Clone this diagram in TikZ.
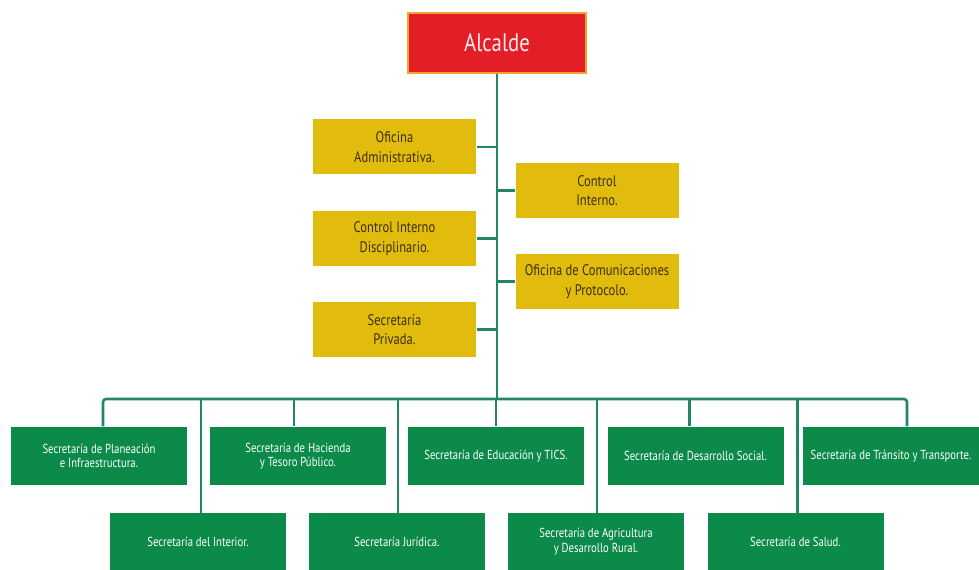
\documentclass[tikz,border=0pt]{standalone}
\usepackage{fontspec}
\newfontfamily\orgfont{PT Sans}[FakeStretch=0.82]
\definecolor{alcaldered}{RGB}{228,30,38}
\definecolor{alcaldeedge}{RGB}{240,165,50}
\definecolor{ofiyellow}{RGB}{226,188,12}
\definecolor{ofitext}{RGB}{60,48,10}
\definecolor{secgreen}{RGB}{12,138,74}
\definecolor{linkgreen}{RGB}{34,134,100}

\tikzset{every picture/.style={line width=0.75pt}}
\tikzset{
  alcaldebox/.style={draw=alcaldeedge, line width=1.2pt, fill=alcaldered, text=white!92!red,
    minimum width=133.5pt, minimum height=45pt, inner sep=0pt, font=\orgfont\fontsize{19}{22}\selectfont},
  ofibox/.style={fill=ofiyellow, text=ofitext, align=center, minimum width=122.25pt, minimum height=41.25pt,
    inner sep=0pt, font=\orgfont\fontsize{11.5}{14.5}\selectfont},
  secbox/.style={fill=secgreen, text=white, align=center, minimum width=132pt, minimum height=43.5pt,
    inner sep=0pt, font=\orgfont\fontsize{9.8}{11}\selectfont},
  link/.style={draw=linkgreen, line width=1.9pt}
}

\begin{document}
\begin{tikzpicture}[x=0.75pt,y=0.75pt,yscale=-1,xscale=1]
\useasboundingbox (0,0) rectangle (979,570);

%Shape: Rectangle [id:alcalde]
\node (alcalde) [alcaldebox] at (497,43) {Alcalde};

%Shape: Rectangle [id:oficinas]
\node (ofiadm) [ofibox] at (394.5,147) {Oficina\\Administrativa.};
\node (ctrlint) [ofibox] at (597,190.5) {Control\\Interno.};
\node (ctrldis) [ofibox] at (394.5,238.5) {Control Interno\\Disciplinario.};
\node (ofcom) [ofibox] at (597,281.5) {Oficina de Comunicaciones\\y Protocolo.};
\node (secpriv) [ofibox] at (394.5,329.5) {Secretaría\\Privada.};

%Shape: Rectangle [id:secretarias, upper row]
\node (planeacion) [secbox] at (99,456) {Secretaría de Planeación\\e Infraestructura.};
\node (hacienda) [secbox] at (298,456) {Secretaría de Hacienda\\y Tesoro Público.};
\node (educacion) [secbox] at (496,456) {Secretaría de Educación y TICS.};
\node (desarrollo) [secbox] at (695.5,456) {Secretaría de Desarrollo Social.};
\node (transito) [secbox] at (891,456) {Secretaría de Tránsito y Transporte.};

%Shape: Rectangle [id:secretarias, lower row]
\node (interior) [secbox, minimum height=42.75pt] at (198,541.5) {Secretaría del Interior.};
\node (juridica) [secbox, minimum height=42.75pt] at (397,541.5) {Secretaría Jurídica.};
\node (agricultura) [secbox, minimum height=42.75pt] at (596,541.5) {Secretaría de Agricultura\\y Desarrollo Rural.};
\node (salud) [secbox, minimum height=42.75pt] at (795.5,541.5) {Secretaría de Salud.};

\coordinate (bus) at (497,399);

%Straight Lines [id:trunk]
\draw [link] (alcalde.south) -- (bus);
\draw [link] (ofiadm.east) -- (ofiadm.east -| bus);
\draw [link] (ctrldis.east) -- (ctrldis.east -| bus);
\draw [link] (secpriv.east) -- (secpriv.east -| bus);
\draw [link] (ctrlint.west) -- (ctrlint.west -| bus);
\draw [link] (ofcom.west) -- (ofcom.west -| bus);

%Straight Lines [id:bus]
\draw [link, rounded corners=2.25pt] ([xshift=3pt]planeacion.north) |- (bus) -| ([xshift=12pt]transito.north);
\draw [link] ([xshift=-3pt]hacienda.north) -- ([xshift=-3pt]hacienda.north |- bus);
\draw [link] (educacion.north) -- (educacion.north |- bus);
\draw [link] ([xshift=-4.5pt]desarrollo.north) -- ([xshift=-4.5pt]desarrollo.north |- bus);
\draw [link] ([xshift=2.25pt]interior.north) -- ([xshift=2.25pt]interior.north |- bus);
\draw [link] ([xshift=0.75pt]juridica.north) -- ([xshift=0.75pt]juridica.north |- bus);
\draw [link] ([xshift=0.75pt]agricultura.north) -- ([xshift=0.75pt]agricultura.north |- bus);
\draw [link] ([xshift=1.5pt]salud.north) -- ([xshift=1.5pt]salud.north |- bus);

\end{tikzpicture}
\end{document}
